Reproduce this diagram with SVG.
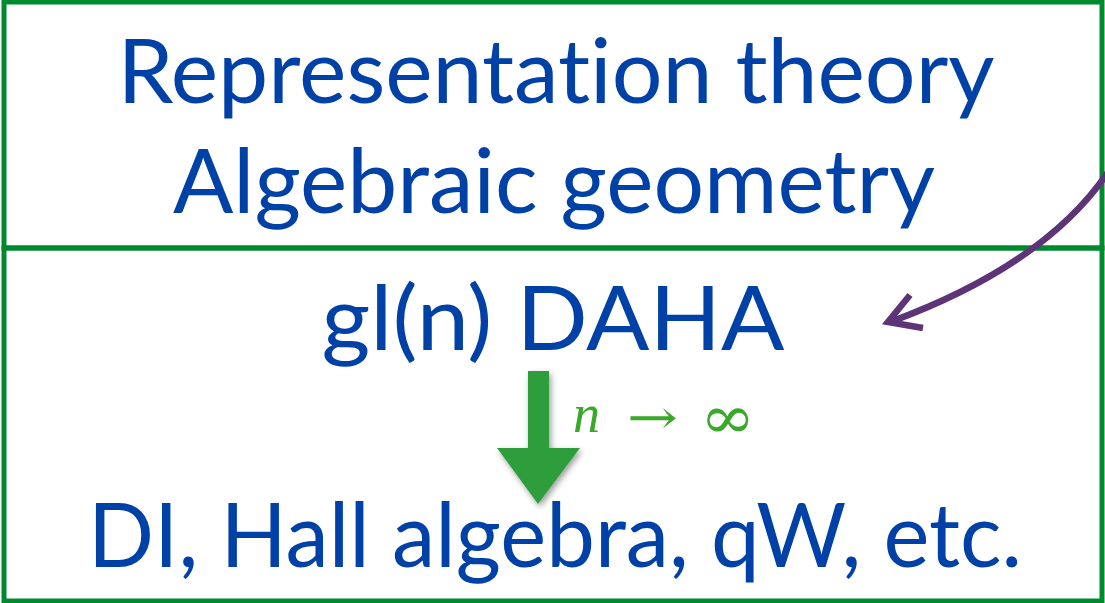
<svg xmlns="http://www.w3.org/2000/svg" width="1105" height="603" viewBox="0 0 1105 603">
<defs>
<style>
.frame{fill:none;stroke:#008A2E;stroke-width:5}
.big{font-family:Lato,"Open Sans",sans-serif;fill:#0041A8;text-anchor:middle;font-variant-ligatures:none;font-feature-settings:"liga" 0}
.math{fill:#3AA829}
</style>
<filter id="sh" x="-30%" y="-30%" width="160%" height="160%">
<feGaussianBlur in="SourceAlpha" stdDeviation="3"/>
<feOffset dx="2" dy="3" result="b"/>
<feComponentTransfer><feFuncA type="linear" slope="0.4"/></feComponentTransfer>
<feMerge><feMergeNode/><feMergeNode in="SourceGraphic"/></feMerge>
</filter>
</defs>
<rect width="1105" height="603" fill="#fff"/>
<g id="top-box">
<rect class="frame" x="4" y="2" width="1098" height="246"/>
<text class="big" x="556" y="103" font-size="90" textLength="877" lengthAdjust="spacingAndGlyphs">Representation theory</text>
<text class="big" x="554" y="213" font-size="90" textLength="762" lengthAdjust="spacingAndGlyphs">Algebraic geometry</text>
</g>
<g id="bottom-box">
<rect class="frame" x="4" y="248" width="1098" height="353"/>
<text class="big" x="553" y="350" font-size="90" textLength="463" lengthAdjust="spacingAndGlyphs">gl(n) DAHA</text>
<text class="big" x="555" y="567" font-size="90" textLength="934" lengthAdjust="spacingAndGlyphs">DI, Hall algebra, qW, etc.</text>
</g>
<g id="limit-label">
<text class="math" x="573" y="432" font-size="54" font-family="Liberation Serif, serif" font-style="italic">n</text>
<text class="math" x="627" y="434" font-size="48" font-family="DejaVu Serif, serif" textLength="51" lengthAdjust="spacingAndGlyphs">→</text>
<text class="math" x="700" y="438" font-size="60" font-family="DejaVu Serif, serif" textLength="55" lengthAdjust="spacingAndGlyphs">∞</text>
</g>
<g id="connectors">
<polygon filter="url(#sh)" fill="#2E9E3E" points="528,371 549,371 549,448 580,448 538,504 497,448 528,448"/>
<path d="M1108,172 Q1045,265 890,322" fill="none" stroke="#5E3479" stroke-width="6.5"/>
<polyline points="910,295 888,322 923,328" fill="none" stroke="#5E3479" stroke-width="6.5" stroke-linejoin="miter"/>
</g>
</svg>
